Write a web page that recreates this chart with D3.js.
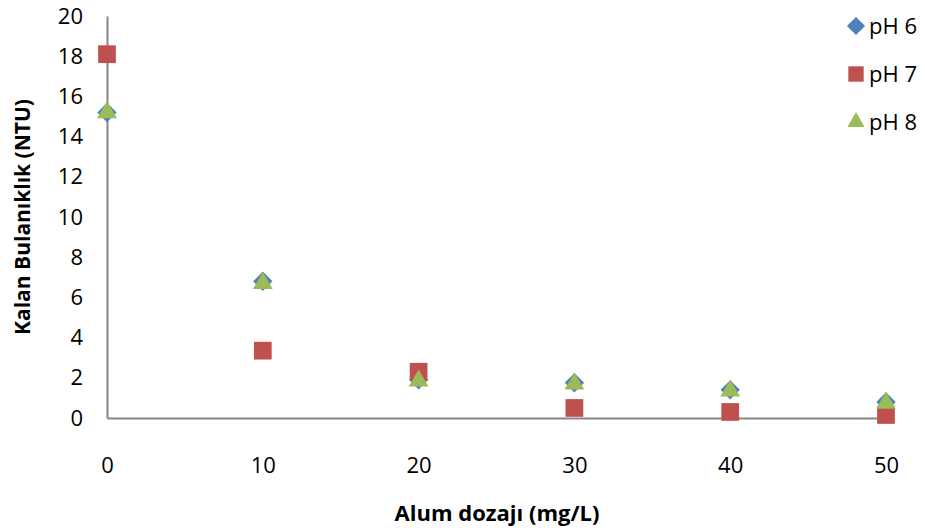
<!doctype html>
<html lang="tr">
<head>
<meta charset="utf-8">
<script src="https://d3js.org/d3.v7.min.js"></script>
<style>
  body { margin: 0; background: #fff; }
  text { font-family: "Open Sans", "Liberation Sans", sans-serif; fill: #000; }
</style>
</head>
<body>
<svg width="925" height="531"></svg>
<script>
var doses = [0, 10, 20, 30, 40, 50];
var ph6 = [15.2, 6.8, 1.9, 1.75, 1.4, 0.8];
var ph7 = [18.1, 3.35, 2.3, 0.5, 0.3, 0.15];
var ph8 = [15.2, 6.7, 1.85, 1.7, 1.35, 0.75];
var yTicks = [0, 2, 4, 6, 8, 10, 12, 14, 16, 18, 20];
var seriesNames = ['pH 6', 'pH 7', 'pH 8'];

var series = [
  { name: seriesNames[0], values: ph6, color: '#4F81BD', shape: d3.symbolDiamond2, size: 240 },
  { name: seriesNames[1], values: ph7, color: '#C0504D', shape: d3.symbolSquare2, size: 400 },
  { name: seriesNames[2], values: ph8, color: '#9BBB59', shape: d3.symbolTriangle2, size: 280 }
];

var svg = d3.select('svg');

var x = d3.scaleLinear().domain([0, 50]).range([107, 886]);
var y = d3.scaleLinear().domain([0, 20]).range([418, 16]);

// axes
var xAxis = d3.axisBottom(x).tickValues(doses).tickSize(0).tickPadding(39);
svg.append('g')
  .attr('transform', 'translate(0,418)')
  .call(xAxis)
  .call(function(g){
    g.select('.domain').attr('stroke', '#868686').attr('stroke-width', 2);
    g.selectAll('text').style('font-size', '22px');
  });

var yAxis = d3.axisLeft(y).tickValues(yTicks).tickSize(0).tickPadding(24);
svg.append('g')
  .attr('transform', 'translate(107,0)')
  .call(yAxis)
  .call(function(g){
    g.select('.domain').attr('stroke', '#868686').attr('stroke-width', 2);
    g.selectAll('text').style('font-size', '22px');
  });

// points
series.forEach(function(s){
  svg.append('g').selectAll('path')
    .data(s.values)
    .enter()
      .append('path')
      .attr('d', d3.symbol().type(s.shape).size(s.size))
      .attr('transform', function(d, i){ return 'translate(' + x(doses[i]) + ',' + y(d) + ')'; })
      .attr('fill', s.color);
});

// legend
var legend = svg.append('g');
series.forEach(function(s, i){
  var ly = 26 + i * 48;
  legend.append('path')
    .attr('d', d3.symbol().type(s.shape).size(s.name === 'pH 7' ? 300 : 210))
    .attr('transform', 'translate(856,' + ly + ')')
    .attr('fill', s.color);
  legend.append('text')
    .attr('x', 869)
    .attr('y', ly)
    .attr('dy', '0.36em')
    .style('font-size', '22px')
    .text(s.name);
});

// titles
svg.append('text')
  .attr('x', 497)
  .attr('y', 521)
  .attr('text-anchor', 'middle')
  .style('font-size', '22px')
  .style('font-weight', 'bold')
  .text('Alum dozajı (mg/L)');

svg.append('text')
  .attr('transform', 'translate(30,217) rotate(-90)')
  .attr('text-anchor', 'middle')
  .style('font-size', '21px')
  .style('font-weight', 'bold')
  .text('Kalan Bulanıklık (NTU)');
</script>
</body>
</html>
